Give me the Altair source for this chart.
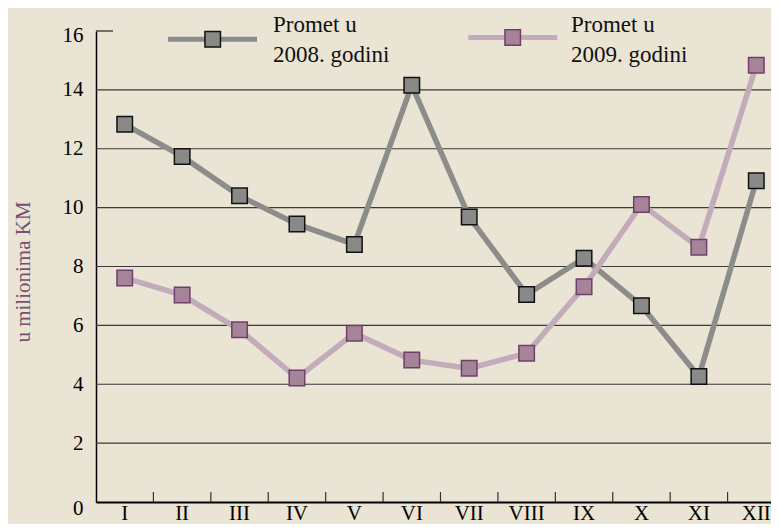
import altair as alt
import pandas as pd

# ---- data ----
months = ["I", "II", "III", "IV", "V", "VI", "VII", "VIII", "IX", "X", "XI", "XII"]
promet_2008 = [12.83, 11.74, 10.40, 9.44, 8.75, 14.16, 9.68, 7.05, 8.28, 6.67, 4.26, 10.91]
promet_2009 = [7.61, 7.03, 5.85, 4.21, 5.73, 4.82, 4.54, 5.05, 7.31, 10.11, 8.65, 14.84]
y_ticks = [0, 2, 4, 6, 8, 10, 12, 14, 16]
grid_values = [2, 4, 6, 8, 10, 12, 14]
top_value = [16]
label_line1 = "Promet u"
label_2008 = "2008. godini"
label_2009 = "2009. godini"
y_title = "u milionima KM"

FONT = "Liberation Serif"
W, H = 675, 471          # visible plot area (the band scale runs a little past the right edge)
X_RANGE = 689

df08 = pd.DataFrame({"month": months, "idx": list(range(12)), "value": promet_2008,
                     "series": "2008", "l1": label_line1, "l2": label_2008})
df09 = pd.DataFrame({"month": months, "idx": list(range(12)), "value": promet_2009,
                     "series": "2009", "l1": label_line1, "l2": label_2009})
df_grid = pd.DataFrame({"v": grid_values})
df_top = pd.DataFrame({"v": top_value})
df_ticks = pd.DataFrame({"month": months[1:], "v": [0] * (len(months) - 1)})

xscale = alt.Scale(type="band", domain=months, range=[0, X_RANGE],
                   paddingInner=0, paddingOuter=0)
yscale = alt.Scale(domain=[0, 16], nice=False, zero=True)

xaxis = alt.Axis(title=None, ticks=False, tickSize=0, grid=False, domainColor="#000",
                 domainWidth=2, labelAngle=0, labelFontSize=21, labelPadding=0,
                 labelColor="#000", labelFont=FONT)
yaxis = alt.Axis(title=y_title, values=y_ticks, ticks=False, tickSize=0, grid=False,
                 domainColor="#000", domainWidth=1.5, labelFontSize=21, labelPadding=13,
                 labelColor="#000", labelFont=FONT,
                 labelOffset={"condition": [{"test": "datum.value === 0", "value": 6},
                                            {"test": "datum.value === 16", "value": 4}],
                              "value": 0},
                 titleColor="#7a4e72", titleFontSize=21, titleFontWeight="normal",
                 titleFont=FONT, titleAngle=270, titleX=-67, titleY=240.5,
                 titleAlign="center", titleBaseline="alphabetic")


def line_legend(x, y):
    return alt.Legend(title=None, orient="none", legendX=x, legendY=y, padding=0,
                      symbolType="stroke", symbolSize=7921, symbolStrokeWidth=5,
                      labelExpr="''", labelFontSize=23)


def square_legend(x, y, stroke):
    return alt.Legend(title=None, orient="none", legendX=x, legendY=y, padding=0,
                      symbolType="square", symbolSize=240, symbolStrokeWidth=1.5,
                      symbolStrokeColor=stroke, symbolOpacity=1,
                      labelExpr="''", labelFontSize=23)


def text_legend(x, y):
    return alt.Legend(title=None, orient="none", legendX=x, legendY=y, padding=0,
                      symbolSize=0, symbolStrokeWidth=0, labelOffset=0,
                      labelFontSize=23, labelFont=FONT, labelColor="#111",
                      labelBaseline="alphabetic", labelLimit=400)


X = lambda bp: alt.X("month:N", scale=xscale, axis=xaxis, bandPosition=bp)
Y = lambda f: alt.Y(f, scale=yscale, axis=yaxis)

grid = alt.Chart(df_grid).mark_rule(color="#3a3a3a", strokeWidth=1.2).encode(y=Y("v:Q"))
top = alt.Chart(df_top).mark_rule(color="#222", strokeWidth=1.2).encode(
    y=Y("v:Q"), x=alt.value(0), x2=alt.value(17))
ticks = alt.Chart(df_ticks).mark_rule(color="#333", strokeWidth=1.2).encode(
    x=X(0), y=Y("v:Q"), y2=alt.value(H - 10))


def series_layers(df, series, l2, line_col, fill_col, stroke_col, pos):
    lx, ly, sx, sy, tx = pos
    line = alt.Chart(df).mark_line(strokeWidth=5.5).encode(
        x=X(0.5), y=Y("value:Q"), order=alt.Order("idx:Q"),
        color=alt.Color("series:N", scale=alt.Scale(domain=[series], range=[line_col]),
                        legend=line_legend(lx, ly)),
        opacity=alt.Opacity("l2:N", scale=alt.Scale(type="ordinal", domain=[l2], range=[1]),
                            legend=text_legend(tx, 19.2)),
    )
    pts = alt.Chart(df).mark_point(shape="square", filled=True, size=240, strokeWidth=1.5,
                                   opacity=1).encode(
        x=X(0.5), y=Y("value:Q"),
        fill=alt.Fill("series:N", scale=alt.Scale(domain=[series], range=[fill_col]),
                      legend=square_legend(sx, sy, stroke_col)),
        stroke=alt.Stroke("l1:N", scale=alt.Scale(domain=[label_line1], range=[stroke_col]),
                          legend=text_legend(tx, -10.2)),
    )
    return line, pts


line08, pts08 = series_layers(df08, "2008", label_2008, "#8c8c8a", "#898987", "#111111",
                              (69.5, -38.8, 105.2, -3.3, 154))
line09, pts09 = series_layers(df09, "2009", label_2009, "#c3abb9", "#a5849a", "#70406a",
                              (369.8, -40.5, 405.2, -5.0, 452))

chart = alt.layer(grid, top, ticks, line08, line09, pts08, pts09).resolve_scale(
    color="independent", fill="independent", stroke="independent", opacity="independent"
).properties(
    width=W, height=H,
    autosize=alt.AutoSizeParams(type="none"),
    padding={"left": 88, "top": 23, "right": 0, "bottom": 22},
).configure(
    background="#e9e4d3", font=FONT
).configure_view(stroke=None)

chart.save("out.html", embed_options={"renderer": "svg", "actions": False})
